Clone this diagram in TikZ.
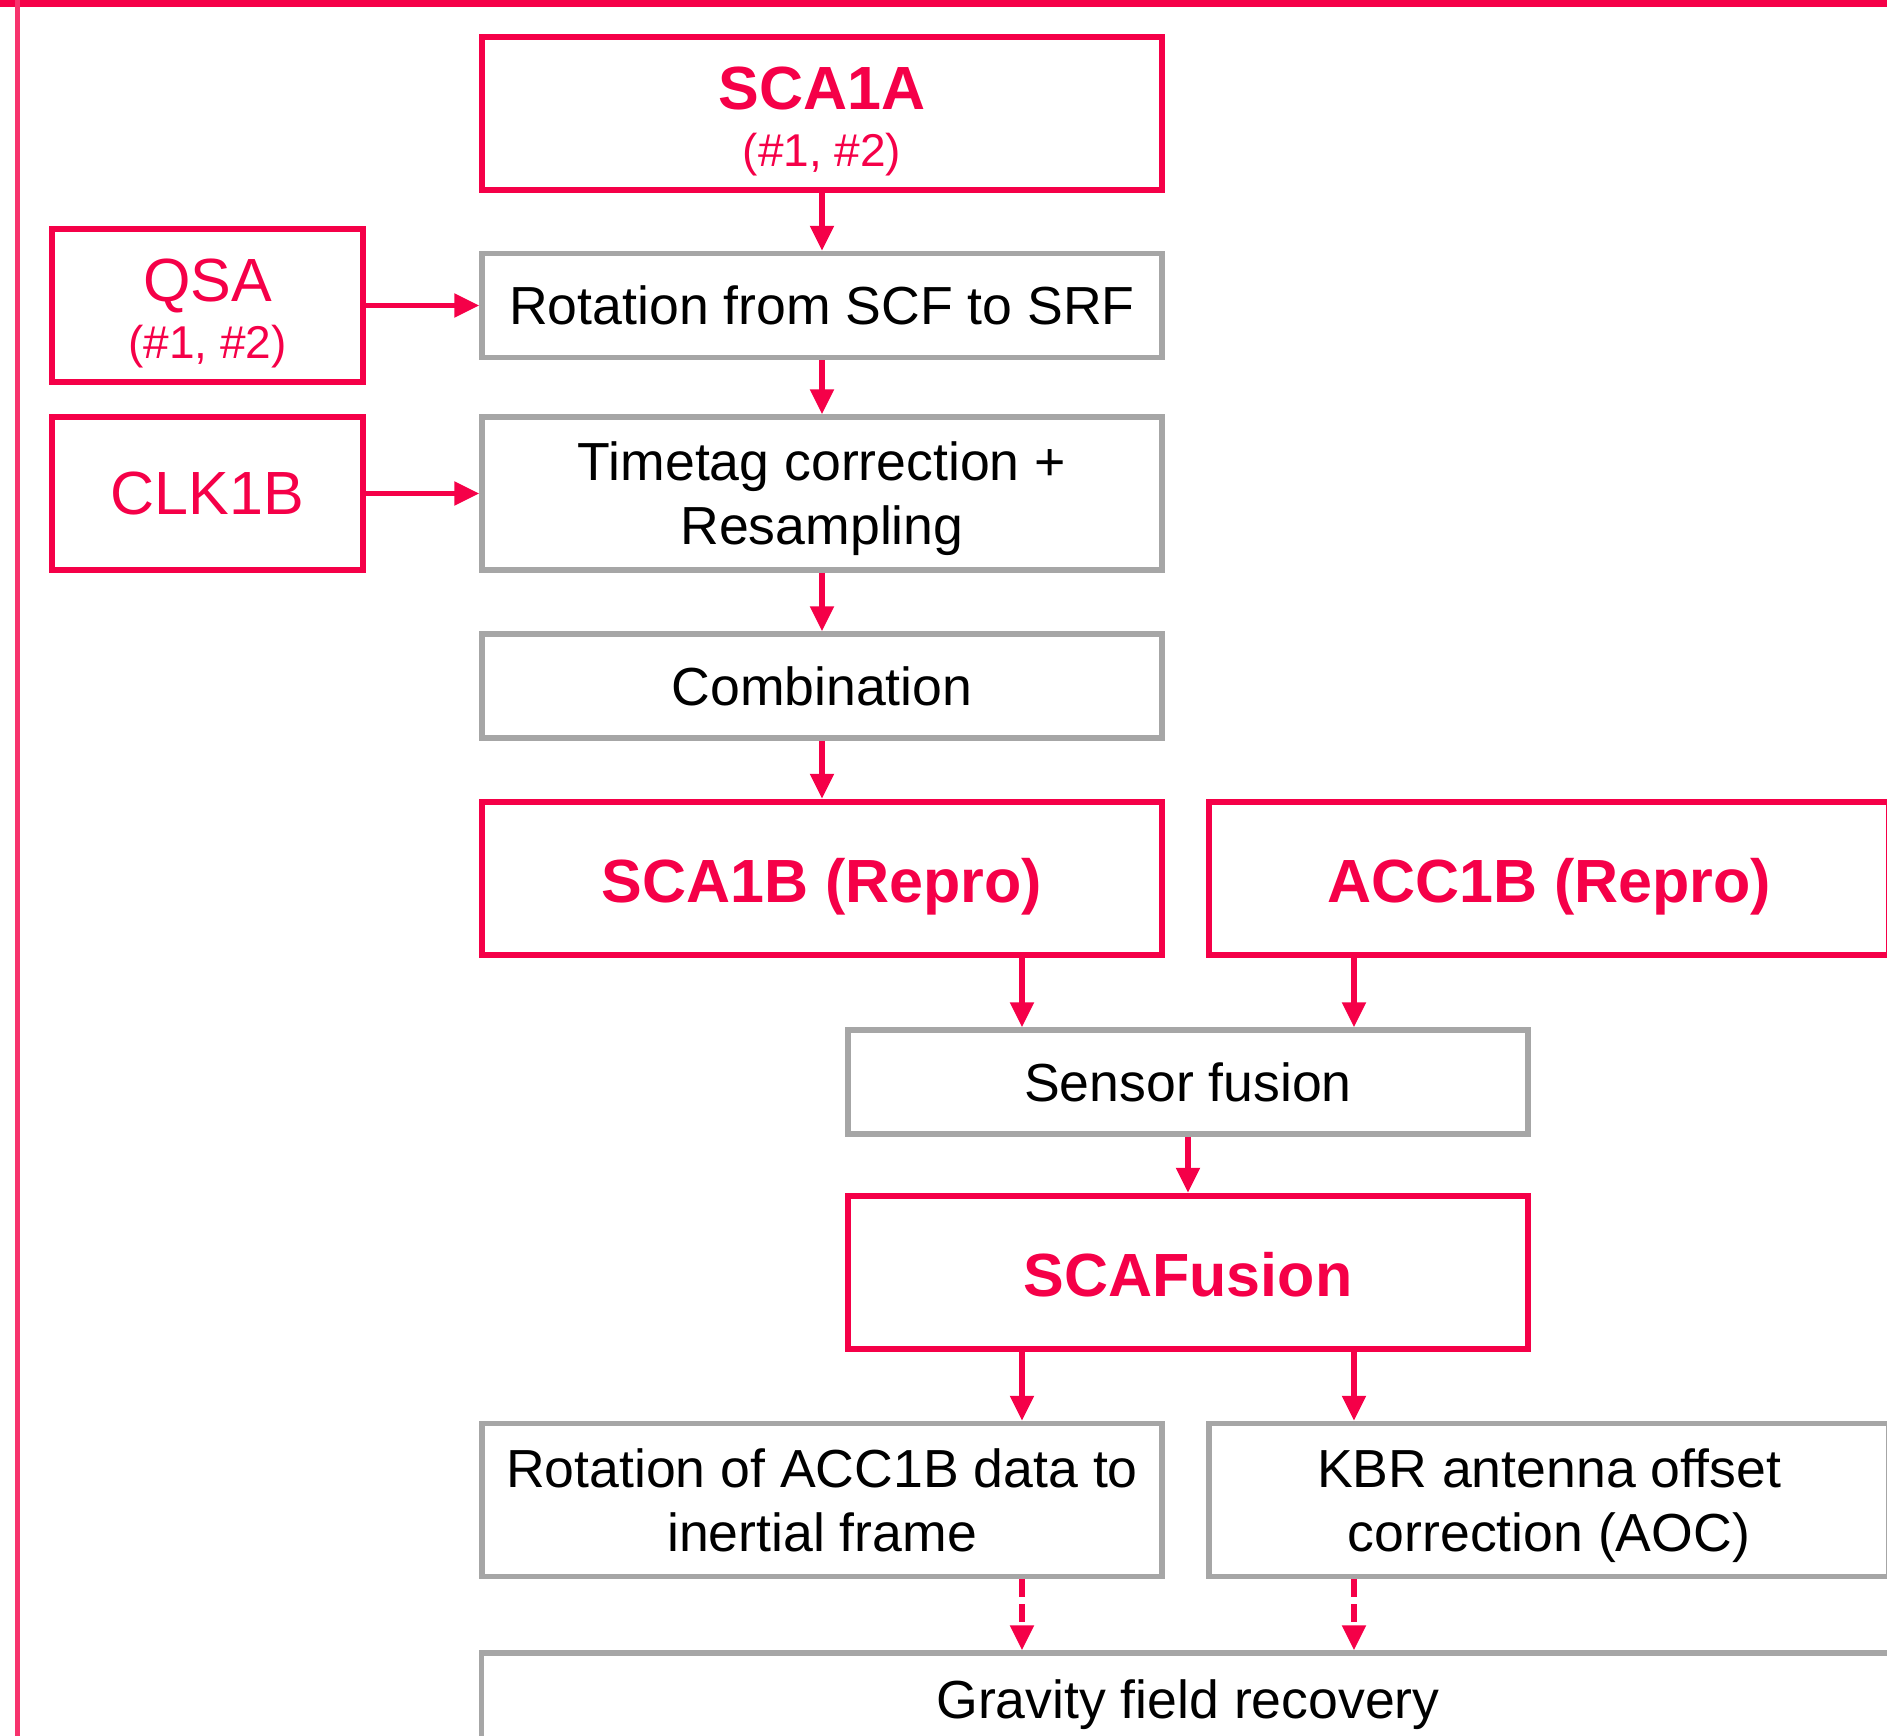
\documentclass[tikz,border=0pt]{standalone}
\usepackage{fontspec}
\setmainfont{Liberation Sans}
\usetikzlibrary{arrows.meta}
\definecolor{gracered}{RGB}{245,0,72}
\definecolor{boxgrey}{RGB}{166,166,166}
\begin{document}
\begin{tikzpicture}[x=0.5pt,y=-0.5pt]
        \tikzstyle{redbox}=[draw=gracered,line width=3.25pt,text=gracered,minimum width=340pt,minimum height=76.5pt,align=center,font=\fontsize{30.5}{28}\selectfont\bfseries]
        \tikzstyle{uneligne}=[text height=23.5pt,text depth=0pt]
        \tikzstyle{inbox}=[redbox,minimum width=155.5pt,font=\fontsize{30.5}{28}\selectfont]
        \tikzstyle{greybox}=[draw=boxgrey,line width=2.75pt,minimum width=340pt,minimum height=52pt,align=center,font=\fontsize{26.8}{32}\selectfont]
        \tikzstyle{fleche}=[draw=gracered,line width=2.6pt,-{Triangle[length=12.5pt,width=11.5pt]}]
        \useasboundingbox (0,0) rectangle (1887,1736);
        \clip (0,0) rectangle (1887,1736);
        \draw[gracered,line width=3.5pt] (0,3) -- (1950,3);
        \draw[gracered!80,line width=2.5pt] (17.5,0) -- (17.5,1800);
        \node[redbox] (sca1a) at (822,113.5) {\rule{0pt}{29.3pt}SCA1A\\[0.3pt]{\fontsize{23}{28}\selectfont\mdseries (\#1, \#2)}};
        \node[inbox] (qsa) at (207.5,305.5) {\rule{0pt}{29.3pt}QSA\\[0.3pt]{\fontsize{23}{28}\selectfont (\#1, \#2)}};
        \node[greybox] (rot) at (822,305.5) {Rotation from SCF to SRF};
        \node[inbox] (clk) at (207.5,493.5) {CLK1B};
        \node[greybox,minimum height=76.5pt] (time) at (822,493.5) {Timetag correction +\\\smash{Resampling}};
        \node[greybox] (comb) at (822,686) {Combination};
        \node[redbox,uneligne] (sca1b) at (822,878.5) {SCA1B (Repro)};
        \node[redbox,uneligne] (acc1b) at (1549,878.5) {ACC1B (Repro)};
        \node[greybox] (fus) at (1188,1082) {Sensor fusion};
        \node[redbox,uneligne] (scaf) at (1188,1272.5) {SCAFusion};
        \node[greybox,minimum height=76.5pt] (rotacc) at (822,1500) {Rotation of ACC1B data to\\\smash{inertial frame}};
        \node[greybox,minimum height=76.5pt] (kbr) at (1549,1500) {KBR antenna offset\\\smash{correction (AOC)}};
        \node[greybox,minimum width=706.5pt] (grav) at (1188,1705) {Gravity field recovery};
        \coordinate (f1) at ([xshift=-83pt]fus.north);
        \coordinate (f2) at ([xshift=83pt]fus.north);
        \coordinate (s1) at ([xshift=-83pt]scaf.south);
        \coordinate (s2) at ([xshift=83pt]scaf.south);
        \draw[fleche] (sca1a) -- (rot);
        \draw[fleche] (rot) -- (time);
        \draw[fleche] (time) -- (comb);
        \draw[fleche] (comb) -- (sca1b);
        \draw[fleche] (qsa) -- (rot);
        \draw[fleche] (clk) -- (time);
        \draw[fleche] (f1 |- sca1b.south) -- (f1);
        \draw[fleche] (f2 |- acc1b.south) -- (f2);
        \draw[fleche] (fus) -- (scaf);
        \draw[fleche] (s1) -- (s1 |- rotacc.north);
        \draw[fleche] (s2) -- (s2 |- kbr.north);
        \draw[fleche,dash pattern=on 9pt off 3.5pt] (s1 |- rotacc.south) -- (s1 |- grav.north);
        \draw[fleche,dash pattern=on 9pt off 3.5pt] (s2 |- kbr.south) -- (s2 |- grav.north);
    \end{tikzpicture}
\end{document}
